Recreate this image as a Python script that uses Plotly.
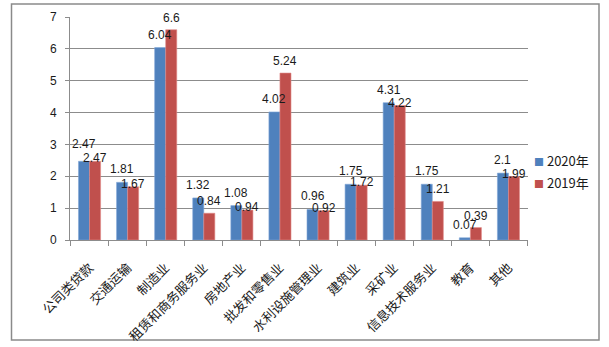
import plotly.graph_objects as go

categories = ["公司类贷款", "交通运输", "制造业", "租赁和商务服务业", "房地产业", "批发和零售业",
              "水利设施管理业", "建筑业", "采矿业", "信息技术服务业", "教育", "其他"]
values_2020 = [2.47, 1.81, 6.04, 1.32, 1.08, 4.02, 0.96, 1.75, 4.31, 1.75, 0.07, 2.1]
values_2019 = [2.47, 1.67, 6.6, 0.84, 0.94, 5.24, 0.92, 1.72, 4.22, 1.21, 0.39, 1.99]
series_names = ["2020年", "2019年"]
series_colors = ["#4F81BD", "#C0504D"]
y_ticks = [0, 1, 2, 3, 4, 5, 6, 7]

W, H = 609, 347
L, R, T, B = 70, 81, 17, 107
pw, ph = W - L - R, H - T - B

def px(x):
    return (x - L) / pw

def py(y):
    return (H - B - y) / ph

BARGAP = 0.42
bar_px = pw / len(categories) * (1 - BARGAP) / 2
num_font = dict(family="Liberation Sans, Arial, sans-serif", size=12, color="#1a1a1a")

fig = go.Figure()
fig.add_trace(go.Bar(
    x=categories, y=values_2020, name=series_names[0],
    marker=dict(color=series_colors[0], line=dict(color="#7FA6D6", width=0.6)),
))
fig.add_trace(go.Bar(
    x=categories, y=values_2019, name=series_names[1],
    marker=dict(color=series_colors[1], line=dict(color="#E08A88", width=0.6)),
))

# data labels, placed Excel-style: 2019 label dropped when it would collide with 2020 label
annotations = []
for c, a, b in zip(categories, values_2020, values_2019):
    close = (a - 0.4) < b <= a
    annotations.append(dict(x=c, y=a, xref="x", yref="y", text=str(a), showarrow=False,
                            xshift=-bar_px / 2, yshift=(17 if a == b else 13), yanchor="middle",
                            font=num_font))
    annotations.append(dict(x=c, y=b, xref="x", yref="y", text=str(b), showarrow=False,
                            xshift=bar_px / 2, yshift=(3 if close else 12), yanchor="middle",
                            font=num_font))

# legend (Excel style small squares)
for i, (name, col) in enumerate(zip(series_names, series_colors)):
    annotations.append(dict(
        x=px(532), y=py(160 + 23 * i), xref="paper", yref="paper", xanchor="left", yanchor="middle",
        showarrow=False, align="left",
        text=f"<span style='color:{col};font-size:10px'>■</span> {name}",
        font=dict(family="Noto Sans CJK SC, sans-serif", size=13, color="#1a1a1a"),
    ))

fig.update_layout(
    width=W, height=H,
    margin=dict(l=L, r=R, t=T, b=B, pad=0),
    paper_bgcolor="white", plot_bgcolor="white",
    barmode="group", bargap=BARGAP, bargroupgap=0,
    showlegend=False,
    xaxis=dict(
        type="category", showgrid=False, showline=True, linecolor="#8c8c8c", linewidth=1,
        ticks="outside", tickson="boundaries", ticklen=5, tickcolor="#8c8c8c",
        tickangle=-45, ticklabelstandoff=14, automargin=False,
        tickfont=dict(family="Noto Sans CJK SC, sans-serif", size=13, color="#1a1a1a"),
    ),
    yaxis=dict(
        range=[0, 7], tickvals=y_ticks, showgrid=True, gridcolor="#8c8c8c", gridwidth=1,
        showline=True, linecolor="#8c8c8c", linewidth=1, automargin=False,
        ticks="outside", ticklen=4, tickcolor="#8c8c8c", ticklabelstandoff=6,
        tickfont=dict(family="Liberation Sans, Arial, sans-serif", size=12, color="#1a1a1a"),
        zeroline=False,
    ),
    annotations=annotations,
    shapes=[dict(type="rect", xref="paper", yref="paper",
                 x0=px(11.5), x1=px(599), y0=py(340), y1=py(4),
                 line=dict(color="#8a8a8a", width=1.5), fillcolor="rgba(0,0,0,0)", layer="below")],
)

fig.write_html("out.html")
